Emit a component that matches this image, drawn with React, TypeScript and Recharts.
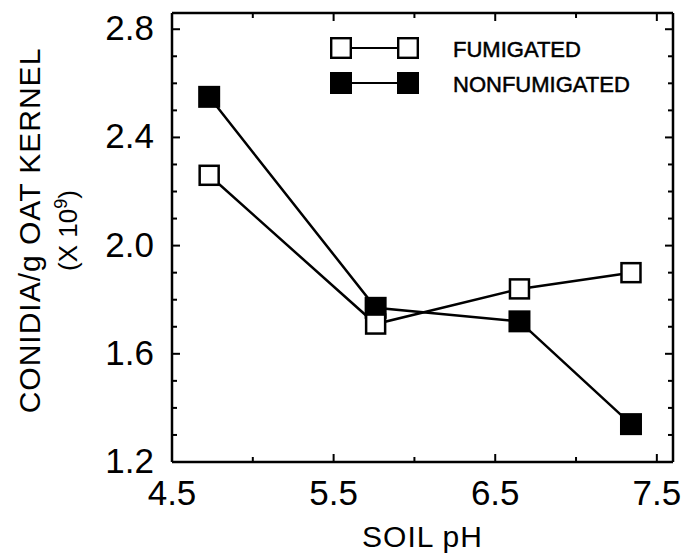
import React from "react";
import { LineChart, Line, XAxis, YAxis, Legend } from "recharts";

// soil pH of each plot, and conidia per gram oat kernel (x 10^9)
const soilPh = [4.73, 5.76, 6.65, 7.34];
const fumigated = [2.26, 1.71, 1.84, 1.9];
const nonfumigated = [2.55, 1.77, 1.72, 1.34];

const xTicks = [4.5, 5.0, 5.5, 6.0, 6.5, 7.0, 7.5];
const xLabels = [4.5, 5.5, 6.5, 7.5];
const yTicks = [1.2, 1.3, 1.4, 1.5, 1.6, 1.7, 1.8, 1.9, 2.0, 2.1, 2.2, 2.3, 2.4, 2.5, 2.6, 2.7, 2.8];
const yLabels = [1.2, 1.6, 2.0, 2.4, 2.8];

const data = soilPh.map((ph, i) => ({
  ph,
  fum: fumigated[i],
  nonfum: nonfumigated[i],
}));

const FONT = "'Liberation Sans', Arial, Helvetica, sans-serif";
const INK = "#000";

function BottomTick(props: any) {
  const { x, y, payload } = props;
  const major = xLabels.includes(payload.value);
  return (
    <g>
      <line x1={x} x2={x} y1={y} y2={y - (major ? 8 : 5)} stroke={INK} strokeWidth={2} />
      {major && (
        <text x={x} y={y + 43} textAnchor="middle" fontFamily={FONT} fontSize={35} fill={INK}>
          {payload.value.toFixed(1)}
        </text>
      )}
    </g>
  );
}

function TopTick(props: any) {
  const { x, y, payload } = props;
  const major = xLabels.includes(payload.value);
  return <line x1={x} x2={x} y1={y} y2={y + (major ? 8 : 5)} stroke={INK} strokeWidth={2} />;
}

function LeftTick(props: any) {
  const { x, y, payload } = props;
  const major = yLabels.includes(payload.value);
  return (
    <g>
      <line x1={x} x2={x + (major ? 8 : 5)} y1={y} y2={y} stroke={INK} strokeWidth={2} />
      {major && (
        <text x={x - 18} y={y + 11} textAnchor="end" fontFamily={FONT} fontSize={35} fill={INK}>
          {payload.value.toFixed(1)}
        </text>
      )}
    </g>
  );
}

function RightTick(props: any) {
  const { x, y, payload } = props;
  const major = yLabels.includes(payload.value);
  return <line x1={x} x2={x - (major ? 8 : 5)} y1={y} y2={y} stroke={INK} strokeWidth={2} />;
}

function YTitle(props: any) {
  const vb = props.viewBox || {};
  const cy = (vb.y ?? 13) + (vb.height ?? 449) / 2 - 7;
  return (
    <g fontFamily={FONT} fill={INK}>
      <text
        x={40}
        y={cy}
        transform={`rotate(-90, 40, ${cy})`}
        textAnchor="middle"
        fontSize={30}
        letterSpacing={1}
      >
        CONIDIA/g OAT KERNEL
      </text>
      <text
        x={77}
        y={cy}
        transform={`rotate(-90, 77, ${cy})`}
        textAnchor="middle"
        fontSize={26}
      >
        (X 10<tspan dy={-10} fontSize={18}>9</tspan>
        <tspan dy={10}>)</tspan>
      </text>
    </g>
  );
}

function XTitle(props: any) {
  const vb = props.viewBox || {};
  const cx = (vb.x ?? 172) + (vb.width ?? 501) / 2;
  return (
    <text x={cx} y={547} textAnchor="middle" fontFamily={FONT} fontSize={30} letterSpacing={1} fill={INK}>
      SOIL pH
    </text>
  );
}

function OpenSquare(p: any) {
  return (
    <rect
      key={`f-${p.index}`}
      x={p.cx - 9.5}
      y={p.cy - 9.5}
      width={19}
      height={19}
      fill="#fff"
      stroke={INK}
      strokeWidth={2.5}
    />
  );
}

function FilledSquare(p: any) {
  return (
    <rect key={`n-${p.index}`} x={p.cx - 11} y={p.cy - 11} width={22} height={22} fill={INK} />
  );
}

function LegendBox() {
  const rows = [
    { label: "FUMIGATED", open: true, y: 12 },
    { label: "NONFUMIGATED", open: false, y: 47 },
  ];
  return (
    <svg width={330} height={64}>
      {rows.map((r) => (
        <g key={r.label}>
          <line x1={24} x2={69} y1={r.y} y2={r.y} stroke={INK} strokeWidth={2} />
          {[2, 69].map((sx) =>
            r.open ? (
              <rect key={sx} x={sx + 1.2} y={r.y - 9.8} width={19.6} height={19.6} fill="#fff" stroke={INK} strokeWidth={2.4} />
            ) : (
              <rect key={sx} x={sx} y={r.y - 11} width={22} height={22} fill={INK} />
            )
          )}
          <text
            x={125}
            y={r.y + 8.5}
            fontFamily={FONT}
            fontSize={22}
            fill={INK}
            stroke={INK}
            strokeWidth={0.5}
          >
            {r.label}
          </text>
        </g>
      ))}
    </svg>
  );
}

export default function App() {
  return (
    <div style={{ position: "absolute", left: 0, top: 0, background: "#fff" }}>
      <LineChart
        width={684}
        height={555}
        data={data}
        margin={{ top: 12, right: 10, bottom: 92, left: 171 }}
      >
        <XAxis
          xAxisId="bottom"
          type="number"
          dataKey="ph"
          domain={[4.5, 7.6]}
          ticks={xTicks}
          interval={0}
          height={1}
          tickSize={0}
          tickMargin={0}
          tickLine={false}
          tick={<BottomTick />}
          axisLine={{ stroke: INK, strokeWidth: 2.5 }}
          allowDataOverflow
          label={<XTitle />}
        />
        <XAxis
          xAxisId="top"
          orientation="top"
          type="number"
          dataKey="ph"
          domain={[4.5, 7.6]}
          ticks={xTicks}
          interval={0}
          height={1}
          tickSize={0}
          tickMargin={0}
          tickLine={false}
          tick={<TopTick />}
          axisLine={{ stroke: INK, strokeWidth: 2.5 }}
          allowDataOverflow
        />
        <YAxis
          yAxisId="left"
          type="number"
          domain={[1.2, 2.86]}
          ticks={yTicks}
          interval={0}
          width={1}
          tickSize={0}
          tickMargin={0}
          tickLine={false}
          tick={<LeftTick />}
          axisLine={{ stroke: INK, strokeWidth: 2.5 }}
          allowDataOverflow
          label={<YTitle />}
        />
        <YAxis
          yAxisId="right"
          orientation="right"
          type="number"
          domain={[1.2, 2.86]}
          ticks={yTicks}
          interval={0}
          width={1}
          tickSize={0}
          tickMargin={0}
          tickLine={false}
          tick={<RightTick />}
          axisLine={{ stroke: INK, strokeWidth: 2.5 }}
          allowDataOverflow
        />
        <Legend
          layout="horizontal"
          verticalAlign="middle"
          align="center"
          content={<LegendBox />}
          wrapperStyle={{ position: "absolute", left: 328, top: 36, width: 330, height: 64 }}
        />
        <Line
          xAxisId="bottom"
          yAxisId="left"
          dataKey="nonfum"
          name="NONFUMIGATED"
          type="linear"
          stroke={INK}
          strokeWidth={2.5}
          dot={FilledSquare}
          activeDot={false}
          isAnimationActive={false}
        />
        <Line
          xAxisId="bottom"
          yAxisId="left"
          dataKey="fum"
          name="FUMIGATED"
          type="linear"
          stroke={INK}
          strokeWidth={2.5}
          dot={OpenSquare}
          activeDot={false}
          isAnimationActive={false}
        />
      </LineChart>
    </div>
  );
}
